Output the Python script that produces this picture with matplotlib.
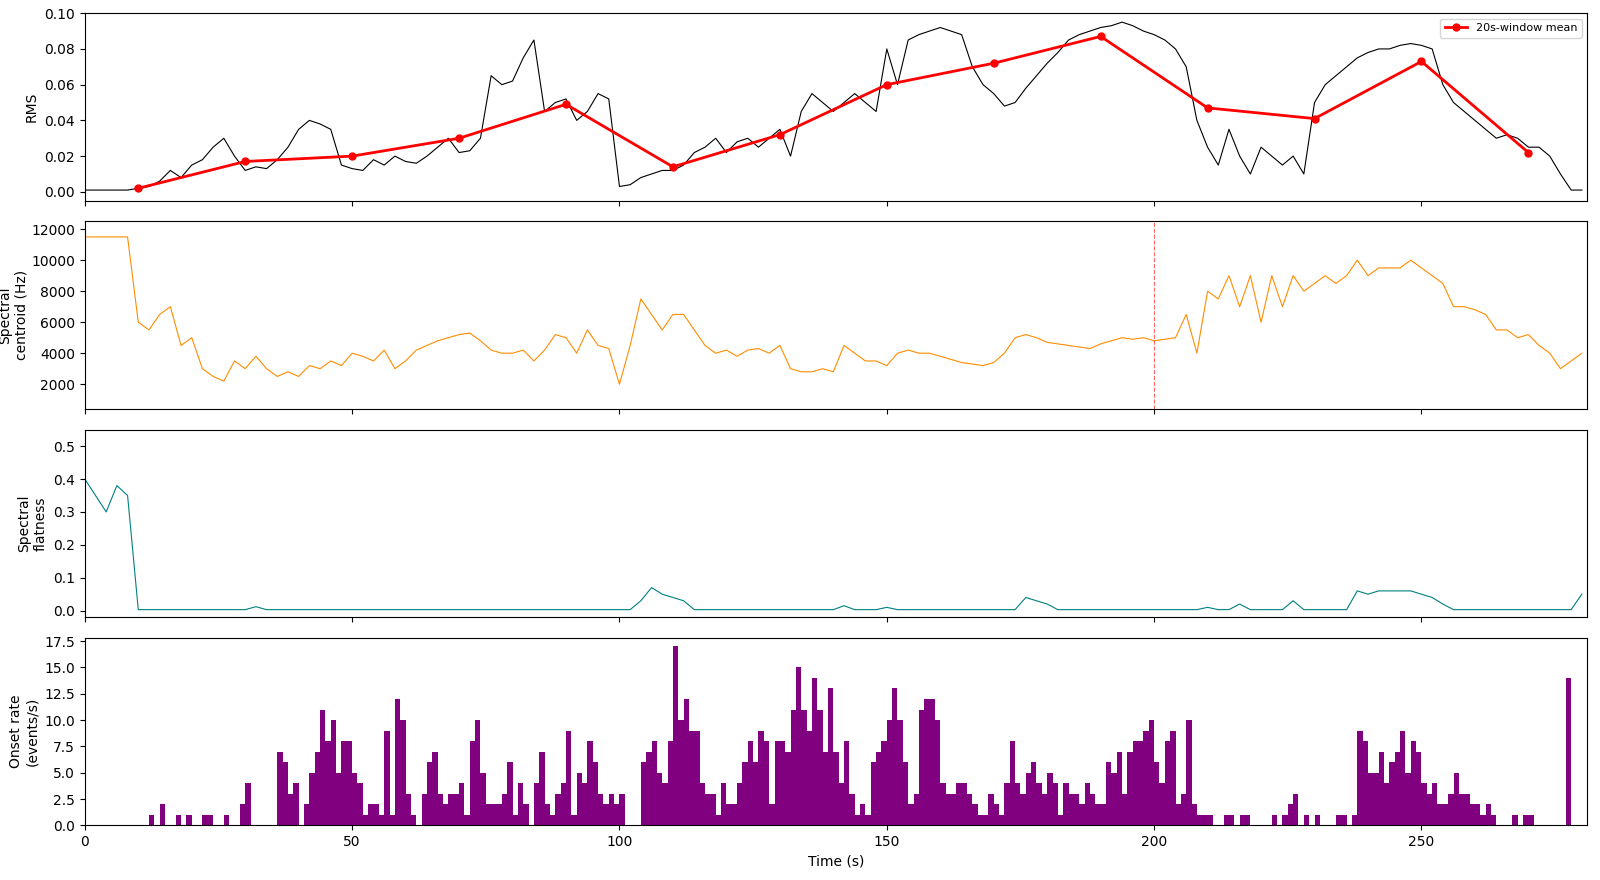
import numpy as np
import matplotlib
matplotlib.use("Agg")
import matplotlib.pyplot as plt

# RMS sampled every 2 s
rms = [0.001,0.001,0.001,0.001,0.001,0.002,0.003,0.006,0.012,0.008,
       0.015,0.018,0.025,0.03,0.02,0.012,0.014,0.013,0.018,0.025,
       0.035,0.04,0.038,0.035,0.015,0.013,0.012,0.018,0.015,0.02,
       0.017,0.016,0.02,0.025,0.03,0.022,0.023,0.03,0.065,0.06,
       0.062,0.075,0.085,0.045,0.05,0.052,0.04,0.045,0.055,0.052,
       0.003,0.004,0.008,0.01,0.012,0.012,0.015,0.022,0.025,0.03,
       0.022,0.028,0.03,0.025,0.03,0.035,0.02,0.045,0.055,0.05,
       0.045,0.05,0.055,0.05,0.045,0.08,0.06,0.085,0.088,0.09,
       0.092,0.09,0.088,0.07,0.06,0.055,0.048,0.05,0.058,0.065,
       0.072,0.078,0.085,0.088,0.09,0.092,0.093,0.095,0.093,0.09,
       0.088,0.085,0.08,0.07,0.04,0.025,0.015,0.035,0.02,0.01,
       0.025,0.02,0.015,0.02,0.01,0.05,0.06,0.065,0.07,0.075,
       0.078,0.08,0.08,0.082,0.083,0.082,0.08,0.06,0.05,0.045,
       0.04,0.035,0.03,0.032,0.03,0.025,0.025,0.02,0.01,0.001,0.001]
mean_t = [10,30,50,70,90,110,130,150,170,190,210,230,250,270]
mean_v = [0.002,0.017,0.020,0.030,0.049,0.014,0.032,0.060,0.072,0.087,0.047,0.041,0.073,0.022]

centroid = [11500,11500,11500,11500,11500,6000,5500,6500,7000,4500,
            5000,3000,2500,2200,3500,3000,3800,3000,2500,2800,
            2500,3200,3000,3500,3200,4000,3800,3500,4200,3000,
            3500,4200,4500,4800,5000,5200,5300,4800,4200,4000,
            4000,4200,3500,4200,5200,5000,4000,5500,4500,4300,
            2000,4500,7500,6500,5500,6500,6500,5500,4500,4000,
            4200,3800,4200,4300,4000,4500,3000,2800,2800,3000,
            2800,4500,4000,3500,3500,3200,4000,4200,4000,4000,
            3800,3600,3400,3300,3200,3400,4000,5000,5200,5000,
            4700,4600,4500,4400,4300,4600,4800,5000,4900,5000,
            4800,4900,5000,6500,4000,8000,7500,9000,7000,9000,
            6000,9000,7000,9000,8000,8500,9000,8500,9000,10000,
            9000,9500,9500,9500,10000,9500,9000,8500,7000,7000,
            6800,6500,5500,5500,5000,5200,4500,4000,3000,3500,4000]

flat_idx = [0,1,2,3,4,16,52,53,54,55,56,71,75,88,89,90,105,108,113,119,120,121,122,123,124,125,126,127,140]
flat_val = [0.4,0.35,0.3,0.38,0.35,0.012,0.03,0.07,0.05,0.04,0.03,0.015,0.01,0.04,0.03,0.02,0.01,0.02,0.03,0.06,0.05,0.06,0.06,0.06,0.06,0.05,0.04,0.02,0.05]
flatness = [0.003]*141
for i, v in zip(flat_idx, flat_val):
    flatness[i] = v

onset = {12:1,14:2,17:1,19:1,22:1,23:1,26:1,29:2,30:4,
 36:7,37:6,38:3,39:4,41:2,42:5,43:7,44:11,45:8,46:10,47:5,48:8,49:8,50:5,51:4,52:1,53:2,54:2,55:1,56:9,57:1,58:12,59:10,60:3,61:1,
 63:3,64:6,65:7,66:3,67:2,68:3,69:3,70:4,71:1,72:8,73:10,74:5,75:2,76:2,77:2,78:3,79:6,80:1,81:4,82:2,84:4,85:7,86:2,87:1,88:3,89:4,90:9,91:1,92:5,93:4,94:8,95:6,96:3,97:2,98:3,99:2,100:3,
 104:6,105:7,106:8,107:5,108:4,109:8,110:17,111:10,112:12,113:9,114:9,115:4,116:3,117:3,118:1,119:4,120:2,121:2,122:4,123:6,124:8,125:6,126:9,127:8,128:2,129:8,130:8,131:7,132:11,133:15,134:11,135:9,136:14,137:11,138:7,139:13,140:7,141:4,142:8,143:3,144:1,145:2,146:1,147:6,148:7,149:8,150:10,151:13,152:10,153:6,154:2,155:3,156:11,157:12,158:12,159:10,160:4,161:3,162:3,163:4,164:4,165:3,166:2,167:1,168:1,169:3,170:2,171:1,172:4,173:8,174:4,175:3,176:5,177:6,178:4,179:3,180:5,181:4,182:1,183:4,184:3,185:3,186:2,187:4,188:3,189:2,190:2,191:6,192:5,193:7,194:3,
 195:7,196:8,197:8,198:9,199:10,200:6,201:4,202:8,203:9,204:2,205:3,206:10,207:2,208:1,209:1,210:1,213:1,214:1,216:1,217:1,222:1,224:1,225:2,226:3,228:1,230:1,234:1,235:1,237:1,
 238:9,239:8,240:5,241:5,242:7,243:4,244:6,245:7,246:9,247:5,248:8,249:7,250:4,251:3,252:4,253:2,254:2,255:3,256:5,257:3,258:3,259:2,260:2,261:1,262:2,263:1,267:1,269:1,270:1,277:14}

t2 = np.arange(len(rms)) * 2
fig, axes = plt.subplots(4, 1, figsize=(16, 8.8), dpi=100, sharex=True)
plt.subplots_adjust(left=0.053, right=0.992, top=0.985, bottom=0.062, hspace=0.11)
ax = axes[0]
ax.plot(t2, rms, color='black', lw=0.8)
ax.plot(mean_t, mean_v, color='red', lw=2, marker='o', ms=5, label='20s-window mean')
ax.set_ylabel('RMS')
ax.legend(loc='upper right', fontsize=8)
ax.set_ylim(-0.005, 0.1)

ax = axes[1]
ax.plot(np.arange(len(centroid)) * 2, centroid, color='darkorange', lw=0.8)
ax.axvline(200, color='red', ls='--', lw=0.8, alpha=0.6)
ax.set_ylabel('Spectral\ncentroid (Hz)', labelpad=2)
ax.set_yticks([2000, 4000, 6000, 8000, 10000, 12000])
ax.set_ylim(400, 12500)

ax = axes[2]
ax.plot(np.arange(len(flatness)) * 2, flatness, color='teal', lw=0.8)
ax.set_ylabel('Spectral\nflatness')
ax.set_ylim(-0.02, 0.55)

ax = axes[3]
ks = sorted(onset)
ax.bar(ks, [onset[k] for k in ks], width=1.0, align='edge', color='purple')
ax.set_ylabel('Onset rate\n(events/s)')
ax.set_xlabel('Time (s)')
ax.set_yticks(np.arange(0, 17.6, 2.5))
ax.set_ylim(0, 17.8)
ax.set_xlim(0, 281)
fig.savefig('out.png')
